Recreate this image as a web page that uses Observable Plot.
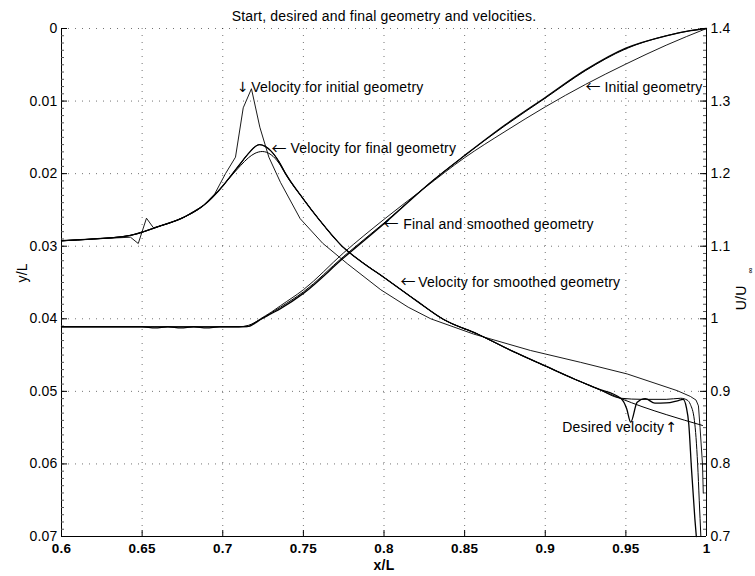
<!DOCTYPE html>
<html><head><meta charset="utf-8">
<script src="https://cdn.jsdelivr.net/npm/d3@7"></script>
<script src="https://cdn.jsdelivr.net/npm/@observablehq/plot@0.6"></script>
<style>
body{margin:0;background:#fff;}
#chart{position:relative;width:755px;height:576px;}
#chart svg{position:absolute;left:0;top:0;}
</style></head><body><div id="chart"></div>
<script>
// ---- tick values ----
const xTicks = [0.6,0.65,0.7,0.75,0.8,0.85,0.9,0.95,1];
const yTicks = [0,0.01,0.02,0.03,0.04,0.05,0.06,0.07];          // y/L (left)
const uTicks = [0.7,0.8,0.9,1.0,1.1,1.2,1.3,1.4];               // U/U∞ (right)
const yMinor = d3.range(0,71).map(i => i/1000);
const uMinor = d3.range(70,141).map(i => i/100);

// ---- geometry (y/L) ----
const geoInitX = [0.6,0.715,0.72,0.7234,0.73,0.7358,0.75,0.775,0.8,0.825,0.85,0.875,0.9,0.925,0.95,0.975,1.0];
const geoInitY = [0.0411,0.0411,0.0405,0.0400,0.0391,0.0382,0.0360,0.0309,0.0263,0.0220,0.0178,0.0142,0.0108,0.0077,0.0049,0.0023,0.0];
const geoFinalX = [0.6,0.65,0.658,0.666,0.674,0.682,0.69,0.698,0.71,0.716,0.72,0.7234,0.73,0.7358,0.75,0.775,0.8,0.83,0.85,0.875,0.9,0.925,0.95,0.975,0.99,1.0];
const geoFinalY = [0.0411,0.0411,0.04125,0.0411,0.04125,0.0411,0.04125,0.0411,0.0411,0.04105,0.0406,0.0401,0.0393,0.0386,0.0365,0.0316,0.0269,0.0210,0.0175,0.0133,0.0095,0.0057,0.0027,0.0010,0.0003,0.0];
const geoSmoothX = [0.6,0.71,0.716,0.72,0.7234,0.73,0.7358,0.75,0.775,0.8,0.83,0.85,0.875,0.9,0.925,0.95,0.975,0.99,1.0];
const geoSmoothY = [0.0411,0.0411,0.0409,0.0405,0.0401,0.0392,0.0384,0.0363,0.0314,0.0268,0.0210,0.0175,0.0134,0.0096,0.0058,0.0028,0.0010,0.0003,0.0];

// ---- velocities (U/U∞) ----
const velInitX = [0.6,0.62,0.6428,0.6476,0.6527,0.657,0.666,0.676,0.688,0.695,0.7017,0.7079,0.7127,0.7178,0.723,0.7286,0.7358,0.748,0.762,0.7772,0.798,0.815,0.829,0.8555,0.8909,0.9219,0.9508,0.9818,0.99,0.9935,0.995,0.996,0.9975,0.998];
const velInitU = [1.1075,1.110,1.1124,1.1037,1.1386,1.1254,1.131,1.140,1.156,1.172,1.200,1.2227,1.2907,1.317,1.264,1.2227,1.188,1.138,1.104,1.076,1.040,1.016,1.000,0.979,0.9563,0.940,0.924,0.901,0.893,0.888,0.880,0.850,0.800,0.760];
const velDesX = [0.6,0.62,0.6428,0.66,0.676,0.688,0.70,0.705,0.711,0.716,0.7228,0.726,0.73,0.735,0.739,0.75,0.76,0.774,0.787,0.80,0.82,0.837,0.858,0.88,0.90,0.918,0.932,0.947,0.96,0.975,0.9975];
const velDesU = [1.1075,1.110,1.115,1.127,1.140,1.156,1.183,1.197,1.214,1.228,1.240,1.238,1.231,1.216,1.200,1.165,1.136,1.100,1.077,1.057,1.025,0.999,0.979,0.955,0.935,0.917,0.904,0.890,0.879,0.868,0.853];
const velFinalX = [0.6,0.62,0.6428,0.66,0.676,0.688,0.70,0.705,0.711,0.716,0.7228,0.726,0.73,0.735,0.739,0.75,0.76,0.774,0.787,0.80,0.82,0.837,0.858,0.88,0.90,0.918,0.932,0.947,0.9505,0.953,0.957,0.962,0.968,0.975,0.982,0.9855,0.9875,0.989,0.9907,0.9928,0.9937];
const velFinalU = [1.1075,1.110,1.115,1.127,1.140,1.156,1.183,1.197,1.214,1.228,1.240,1.238,1.231,1.216,1.200,1.165,1.136,1.100,1.077,1.057,1.025,0.999,0.979,0.955,0.935,0.917,0.904,0.890,0.876,0.8575,0.885,0.890,0.8837,0.884,0.887,0.889,0.878,0.855,0.793,0.724,0.700];
const velSmoothX = [0.6,0.62,0.6428,0.66,0.676,0.688,0.70,0.705,0.711,0.716,0.72,0.7245,0.73,0.735,0.739,0.75,0.76,0.774,0.787,0.80,0.82,0.837,0.858,0.88,0.90,0.918,0.932,0.947,0.96,0.975,0.984,0.988,0.99,0.9925,0.9945,0.9955,0.9965];
const velSmoothU = [1.1075,1.110,1.115,1.127,1.140,1.156,1.183,1.196,1.211,1.222,1.228,1.2305,1.226,1.214,1.199,1.165,1.136,1.100,1.077,1.057,1.025,0.999,0.979,0.955,0.935,0.917,0.904,0.8905,0.889,0.889,0.8905,0.888,0.882,0.860,0.800,0.750,0.700];

// ---- annotations (data coordinates) ----
const velLabels = [
  {x: 0.7176, u: 1.319, text: "Velocity for initial geometry"},
  {x: 0.7420, u: 1.234, text: "Velocity for final geometry"},
  {x: 0.8212, u: 1.0504, text: "Velocity for smoothed geometry"},
  {x: 0.9105, u: 0.8506, text: "Desired velocity"}
];
const velArrowsH = [
  {x: 0.7302, u: 1.234, arrow: "←"},
  {x: 0.8102, u: 1.0504, arrow: "←"}
];
const velArrowsV = [
  {x: 0.71256, u: 1.319, arrow: "↓"},
  {x: 0.9783, u: 0.8506, arrow: "↑"}
];
const geoLabels = [
  {x: 0.8119, yl: 0.0270, text: "Final and smoothed geometry"},
  {x: 0.9367, yl: 0.0081, text: "Initial geometry"}
];
const geoArrows = [
  {x: 0.7997, yl: 0.0270, arrow: "←"},
  {x: 0.9250, yl: 0.0081, arrow: "←"}
];
const title = "Start, desired and final geometry and velocities.";

// ---- layout ----
const W = 755, H = 576, ML = 61, MR = 49, MT = 28, MB = 40;
const FW = W - ML - MR, FH = H - MT - MB;
const font = "'Liberation Sans', Arial, Helvetica, sans-serif";
const arrowFont = "'Noto Sans CJK SC', 'DejaVu Sans', sans-serif";
const vArrowFont = "'DejaVu Sans', sans-serif";
const style = {fontFamily: font, fontSize: "14px", letterSpacing: "0.2px", background: "transparent", color: "#000", overflow: "visible"};
const common = {width: W, height: H, marginLeft: ML, marginRight: MR, marginTop: MT, marginBottom: MB, style};
const fmt = d => String(Math.round(d * 1000) / 1000);
const pts = (xs, ys) => xs.map((x, i) => ({x, v: ys[i]}));
const line = (xs, ys, o = {}) => Plot.line(pts(xs, ys), {x: "x", y: "v", stroke: "#000", strokeWidth: 1, curve: "monotone-x", ...o});
const grid = {stroke: "#000", strokeOpacity: 0.55, strokeWidth: 1, strokeDasharray: "1,6"};

const geo = Plot.plot({
  ...common,
  x: {domain: [0.6, 1], label: null},
  y: {domain: [0, 0.07], reverse: true, label: null},
  marks: [
    Plot.ruleX(xTicks.slice(1, -1), grid),
    Plot.ruleY(yTicks.slice(0, -1), grid),
    Plot.ruleX([0.6], {stroke: "#000"}),
    Plot.ruleY([0.07], {stroke: "#000"}),
    Plot.tickY(yMinor, {stroke: "#555", insetRight: FW - 3}),
    Plot.tickY(yTicks, {stroke: "#000", insetRight: FW - 6}),
    Plot.tickX(xTicks, {stroke: "#000", insetTop: FH - 6}),
    Plot.axisX({ticks: xTicks, tickSize: 0, tickPadding: 7, tickFormat: fmt, fontWeight: "bold", fontSize: 13.5, label: null}),
    Plot.axisY({ticks: yTicks, tickSize: 0, tickPadding: 4, tickFormat: fmt, label: null}),
    line(geoInitX, geoInitY, {strokeWidth: 0.9}),
    line(geoSmoothX, geoSmoothY, {strokeWidth: 1}),
    line(geoFinalX, geoFinalY, {strokeWidth: 1.3}),
    Plot.text(geoLabels, {x: "x", y: "yl", text: "text", textAnchor: "start", fontSize: 14}),
    Plot.text(geoArrows, {x: "x", y: "yl", text: "arrow", textAnchor: "start", fontSize: 15, fontFamily: arrowFont, fill: "#000"}),
    Plot.text([title], {frameAnchor: "top", dy: -17, fontSize: 14}),
    Plot.text(["x/L"], {frameAnchor: "bottom", dy: 33, fontWeight: "bold", fontSize: 14}),
    Plot.text(["y/L"], {frameAnchor: "left", dx: -39, rotate: -90, fontSize: 14})
  ]
});

const vel = Plot.plot({
  ...common,
  x: {domain: [0.6, 1], axis: null, label: null},
  y: {domain: [0.7, 1.4], label: null},
  marks: [
    Plot.ruleX([1], {stroke: "#000"}),
    Plot.tickY(uMinor, {stroke: "#555", insetLeft: FW - 3}),
    Plot.tickY(uTicks, {stroke: "#000", insetLeft: FW - 6}),
    Plot.axisY({anchor: "right", ticks: uTicks, tickSize: 0, tickPadding: 4, tickFormat: fmt, label: null}),
    line(velDesX, velDesU, {strokeWidth: 1}),
    line(velSmoothX, velSmoothU, {strokeWidth: 1}),
    line(velFinalX, velFinalU, {strokeWidth: 1.3}),
    line(velInitX, velInitU, {strokeWidth: 0.9, curve: "linear"}),
    Plot.text(velLabels, {x: "x", y: "u", text: "text", textAnchor: "start", fontSize: 14}),
    Plot.text(velArrowsH, {x: "x", y: "u", text: "arrow", textAnchor: "start", fontSize: 15, fontFamily: arrowFont, fill: "#000"}),
    Plot.text(velArrowsV, {x: "x", y: "u", text: "arrow", textAnchor: "middle", fontSize: 14, fontFamily: vArrowFont, fill: "#000"}),
    Plot.text(["U/U"], {frameAnchor: "right", dx: 35, dy: 3, rotate: -90, fontSize: 14}),
    Plot.text(["∞"], {frameAnchor: "right", dx: 44, dy: -15, rotate: -90, fontSize: 8})
  ]
});

const host = document.getElementById("chart");
host.appendChild(geo);
host.appendChild(vel);
</script></body></html>
